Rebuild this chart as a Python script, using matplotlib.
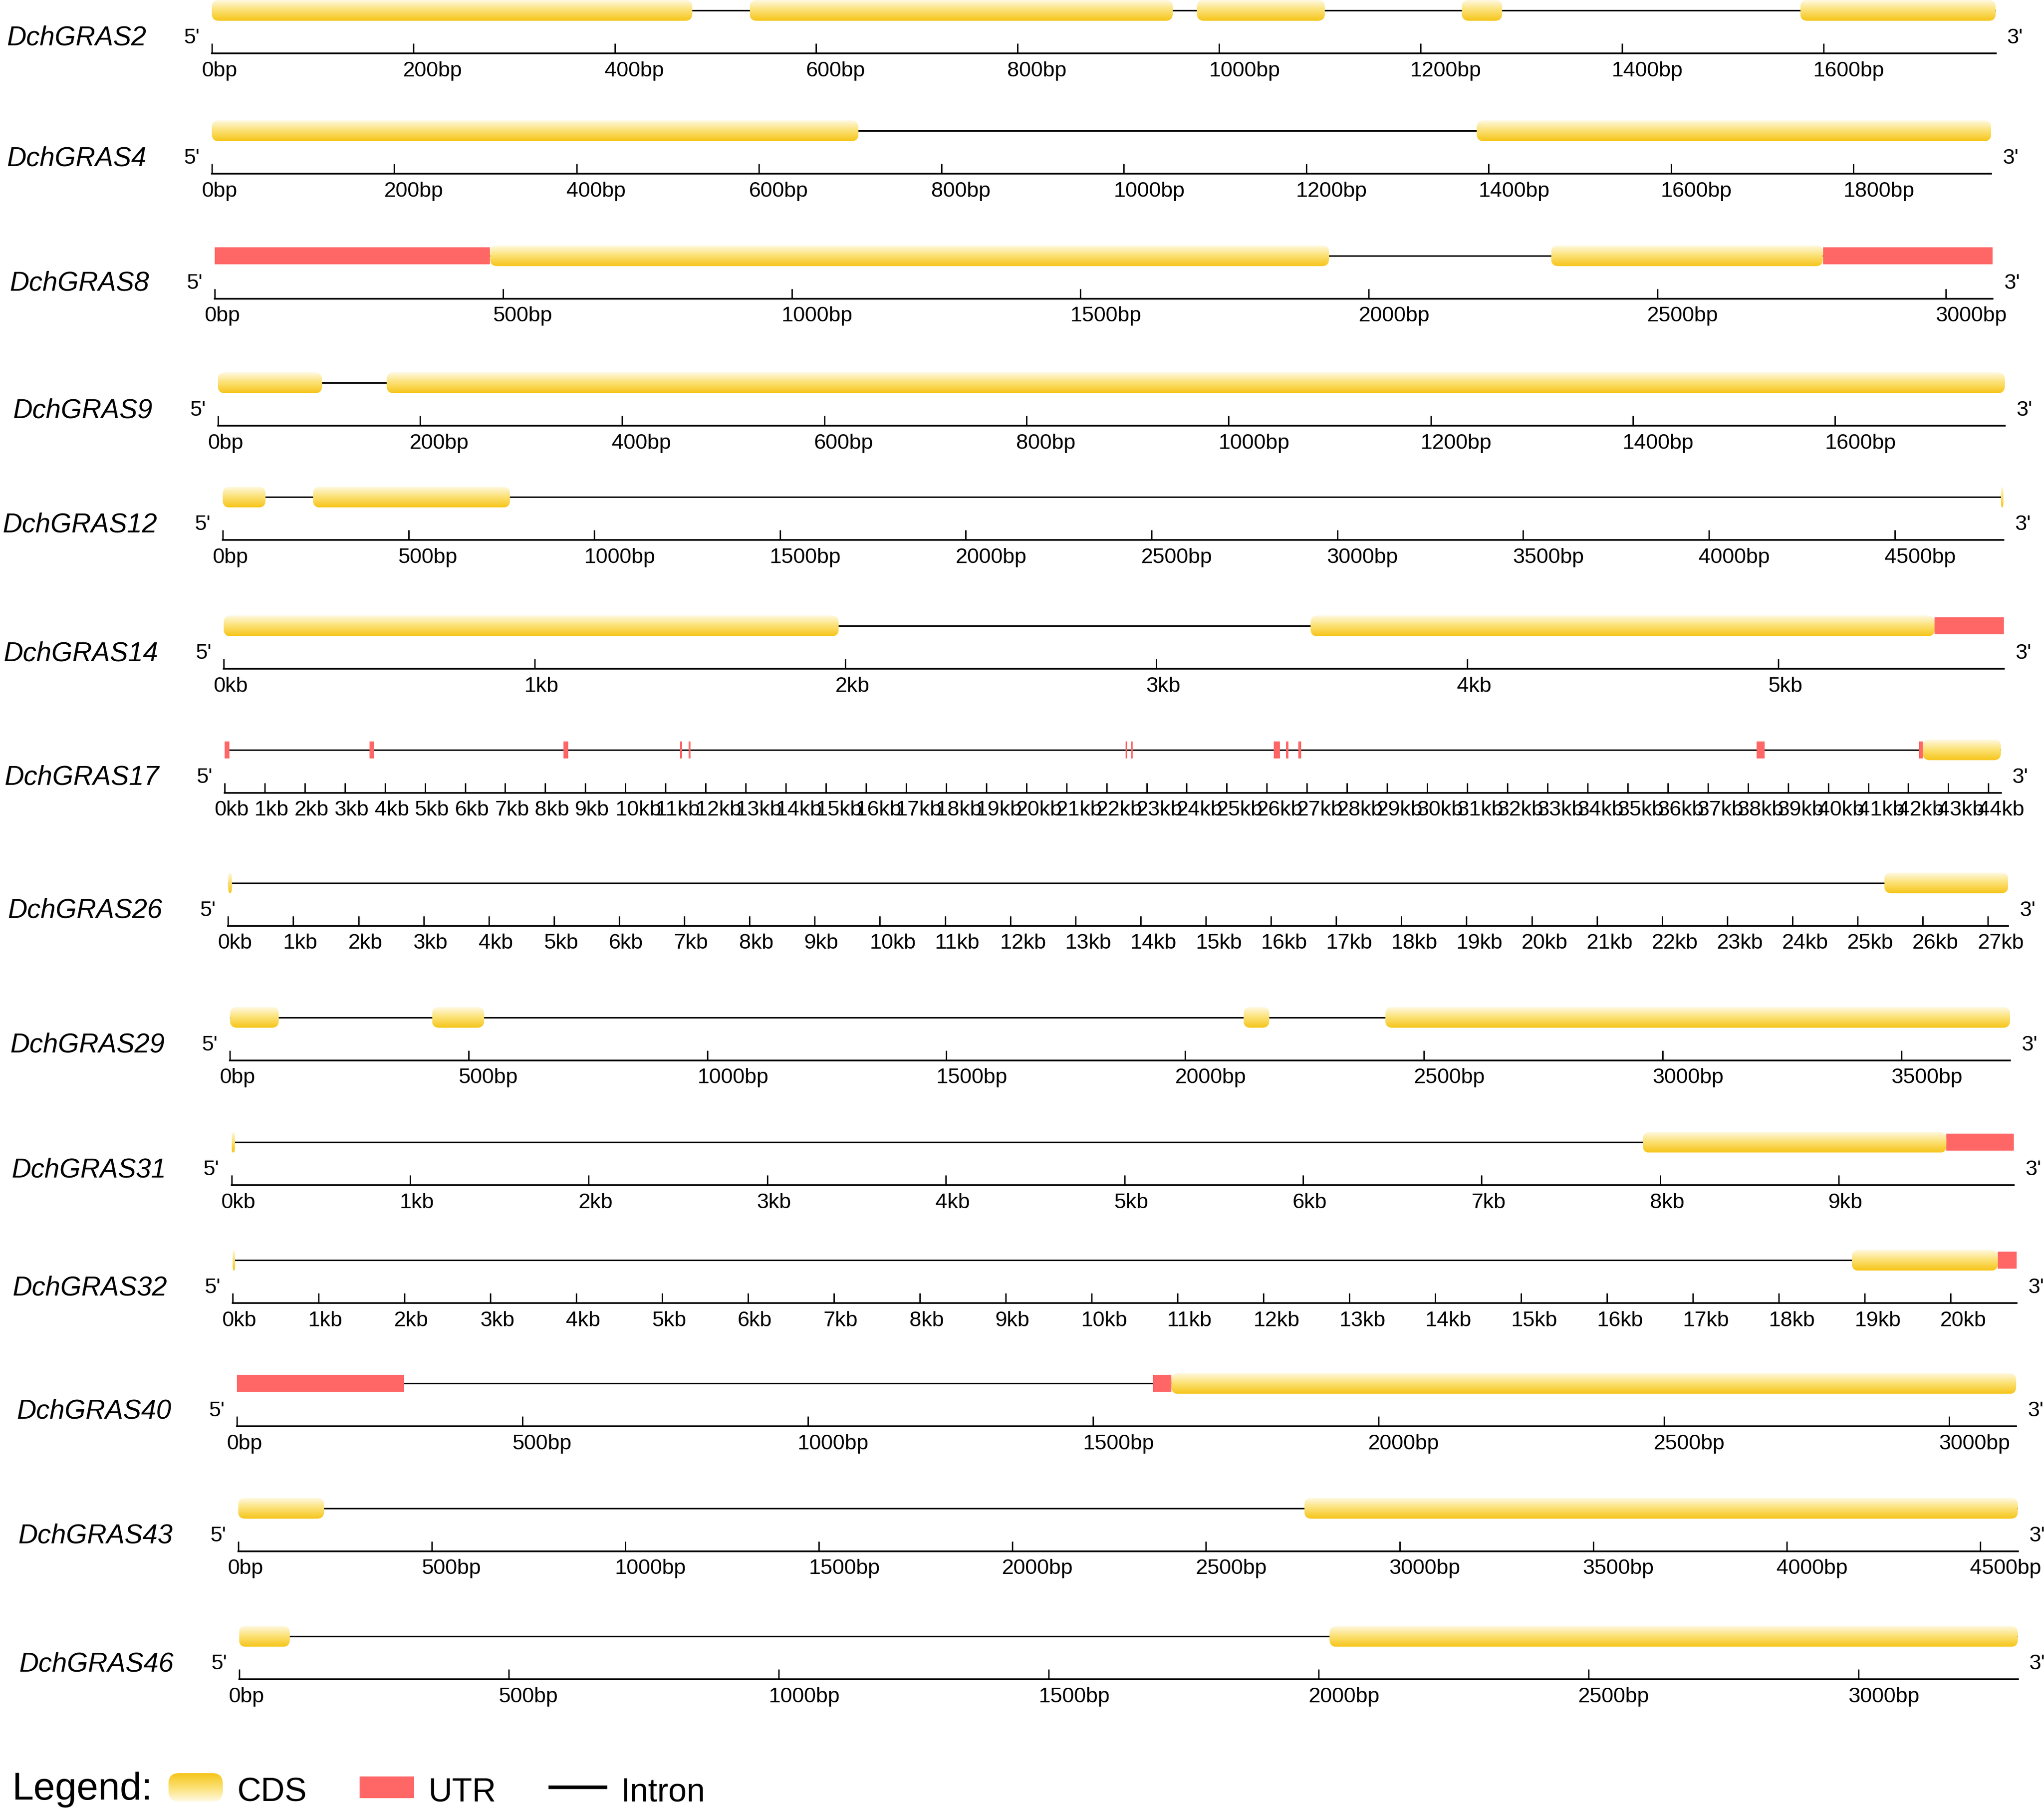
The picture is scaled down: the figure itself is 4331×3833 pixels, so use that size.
# ==========================================
# GENE STRUCTURE OF DchGRAS GENES
# ==========================================

import numpy as np
import matplotlib
matplotlib.use("Agg")
import matplotlib.pyplot as plt
from matplotlib import font_manager
from matplotlib.colors import LinearSegmentedColormap
from matplotlib.patches import FancyBboxPatch, Rectangle
from matplotlib.transforms import ScaledTranslation


# ==========================================
# DATA
# ==========================================

genes = ["DchGRAS2", "DchGRAS4", "DchGRAS8", "DchGRAS9", "DchGRAS12",
         "DchGRAS14", "DchGRAS17", "DchGRAS26", "DchGRAS29", "DchGRAS31",
         "DchGRAS32", "DchGRAS40", "DchGRAS43", "DchGRAS46"]

gene_len = [1771, 1951, 3081, 1768, 4793, 5726, 44310, 27310,
            3727, 9981, 20767, 3117, 4597, 3295]

tick_step = [200, 200, 500, 200, 500, 1000, 1000, 1000,
             500, 1000, 1000, 500, 500, 500]
tick_unit = ["bp", "bp", "bp", "bp", "bp", "kb", "kb", "kb",
             "bp", "kb", "kb", "bp", "bp", "bp"]

cds = [
    [(0, 477), (534, 954), (978, 1105), (1241, 1281), (1577, 1771)],
    [(0, 709), (1387, 1951)],
    [(477, 1931), (2316, 2787)],
    [(0, 103), (167, 1768)],
    [(0, 115), (243, 773), (4786, 4793)],
    [(0, 1978), (3496, 5503)],
    [(42360, 44310)],
    [(0, 60), (25410, 27310)],
    [(0, 102), (423, 532), (2122, 2176), (2419, 3727)],
    [(0, 20), (7903, 9603)],
    [(0, 30), (18850, 20550)],
    [(1637, 3117)],
    [(0, 222), (2754, 4597)],
    [(0, 94), (2020, 3295)],
]

utr = [
    [],
    [],
    [(0, 477), (2787, 3081)],
    [],
    [],
    [(5503, 5726)],
    [(0, 120), (3610, 3720), (8450, 8570), (11360, 11410), (11570, 11620),
     (22470, 22515), (22610, 22655), (26170, 26330), (26480, 26540),
     (26790, 26860), (38220, 38410), (42270, 42360)],
    [],
    [],
    [(9603, 9981)],
    [(20550, 20767)],
    [(0, 292), (1605, 1637)],
    [],
    [],
]

legend_items = ["CDS", "UTR", "Intron"]


# ==========================================
# LAYOUT (pixels of the 1568px preview)
# ==========================================

axis_x0 = [162.5, 162.5, 164.8, 167.2, 170.9, 171.6, 172.3, 175.0,
           176.5, 177.6, 178.4, 181.9, 182.7, 183.4]
axis_x1 = [1531.0, 1527.5, 1528.6, 1538.0, 1537.0, 1537.3, 1535.0, 1540.6,
           1542.0, 1545.0, 1547.0, 1546.7, 1548.0, 1548.0]
axis_y = [40.9, 133.3, 229.1, 326.6, 414.3, 513.1, 608.1, 710.2,
          813.4, 909.3, 999.8, 1094.3, 1190.0, 1288.3]

W, H = 4331, 3833
DPI = 300
S = 2.762

ROW_H = 130
MID = 91
CDS_H = 44
UTR_H = 36
R_PX = 15

UTR_COLOR = "#FF6666"
cds_cmap = LinearSegmentedColormap.from_list(
    "cds", [(0.0, "#FFF9E2"), (0.45, "#FCE37C"), (1.0, "#F6C519")])
grad = np.linspace(0, 1, 256).reshape(-1, 1)


# ==========================================
# FONTS
# ==========================================

def has_font(fam):
    try:
        font_manager.findfont(font_manager.FontProperties(family=fam),
                              fallback_to_default=False)
        return True
    except ValueError:
        return False


REG = ["Liberation Sans", "DejaVu Sans"]
if has_font("Liberation Sans Narrow"):
    NARROW = ["Liberation Sans Narrow", "Liberation Sans", "DejaVu Sans"]
    nscale = 1.0
    lscale = 1.0
else:
    # no condensed face: shrink so the widths stay close
    NARROW = REG
    nscale = 0.80
    lscale = 0.84

NAME_FS = 17.2 * nscale
LEG_FS = 23.5 * lscale
TICK_FS = 10.9
ITEM_FS = 16.8


# ==========================================
# HELPERS
# ==========================================

fig = plt.figure(figsize=(W / DPI, H / DPI), dpi=DPI)
fig.patch.set_facecolor("white")


def off(dx, dy):
    return ScaledTranslation(dx / DPI, dy / DPI, fig.dpi_scale_trans)


def draw_cds(ax, s, e, y0, h, rx, ry):
    box = FancyBboxPatch((s, y0), e - s, h,
                         boxstyle=f"round,pad=0,rounding_size={rx}",
                         mutation_aspect=ry / rx,
                         facecolor="none", edgecolor="none")
    ax.add_patch(box)
    im = ax.imshow(grad, extent=(s, e, y0, y0 + h), origin="upper",
                   aspect="auto", cmap=cds_cmap, interpolation="bilinear",
                   zorder=3)
    im.set_clip_path(box)


# ==========================================
# GENE ROWS
# ==========================================

for i, name in enumerate(genes):
    x0 = axis_x0[i] * S
    x1 = axis_x1[i] * S
    yb = axis_y[i] * S
    L = gene_len[i]
    bpp = L / (x1 - x0)

    ax = fig.add_axes([x0 / W, 1 - yb / H, (x1 - x0) / W, ROW_H / H])
    ax.patch.set_visible(False)

    # intron backbone
    ax.hlines(MID, 0, L, color="black", lw=0.75, zorder=1)

    for s, e in utr[i]:
        ax.add_patch(Rectangle((s, MID - UTR_H / 2), e - s, UTR_H,
                               facecolor=UTR_COLOR, edgecolor="none",
                               zorder=2))

    for s, e in cds[i]:
        rx = min(R_PX * bpp, (e - s) / 2)
        draw_cds(ax, s, e, MID - CDS_H / 2, CDS_H, rx, R_PX)

    ax.set_xlim(0, L)
    ax.set_ylim(0, ROW_H)

    # scale bar
    ticks = np.arange(0, L + 1, tick_step[i])
    ax.set_xticks(ticks)
    ax.set_yticks([])
    ax.tick_params(axis="x", direction="in", length=5.0, width=0.7,
                   labelbottom=False)
    for sp in ["left", "right", "top"]:
        ax.spines[sp].set_visible(False)
    ax.spines["bottom"].set_linewidth(0.85)

    for t in ticks:
        if tick_unit[i] == "bp":
            lab = f"{t}bp"
        else:
            lab = f"{t // 1000}kb"
        ax.text(t, 0, lab, transform=ax.get_xaxis_transform() + off(-22, -48.6),
                ha="left", va="baseline", fontsize=TICK_FS, family=REG)

    ax.text(0, 0, name, transform=ax.transAxes + off(-139, 17),
            ha="right", va="baseline", fontsize=NAME_FS, style="italic",
            family=NARROW)
    ax.text(0, 0, "5'", transform=ax.transAxes + off(-26, 21),
            ha="right", va="baseline", fontsize=TICK_FS, family=REG)
    ax.text(1, 0, "3'", transform=ax.transAxes + off(24, 21),
            ha="left", va="baseline", fontsize=TICK_FS, family=REG)


# ==========================================
# LEGEND
# ==========================================

lg = fig.add_axes([0, 0, 1, 140 / H])
lg.axis("off")

lg.text(25, 3813, "Legend:", ha="left", va="baseline",
        fontsize=LEG_FS, family=NARROW)

draw_cds(lg, 357, 472, 3757, 60, 22, 22)
lg.add_patch(Rectangle((762, 3764), 115, 46, facecolor=UTR_COLOR,
                       edgecolor="none"))
lg.plot([1166, 1283], [3787, 3787], color="black", lw=1.8)

for label, lx in zip(legend_items, [503, 908, 1316]):
    lg.text(lx, 3816, label, ha="left", va="baseline",
            fontsize=ITEM_FS, family=REG)

lg.set_xlim(0, W)
lg.set_ylim(H, H - 140)

fig.savefig("out.png", dpi=DPI, facecolor="white")
